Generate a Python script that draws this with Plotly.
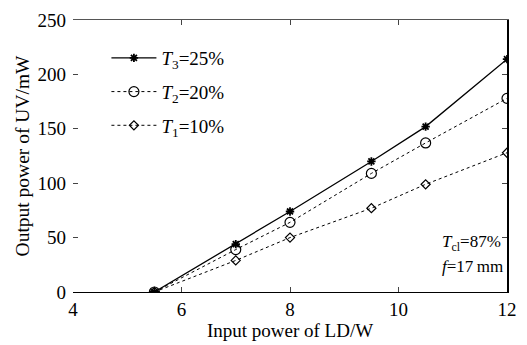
import plotly.graph_objects as go

x_input = [5.5, 7, 8, 9.5, 10.5, 12]
t3_vals = [0, 44, 74, 120, 152, 214]
t2_vals = [0, 39, 64, 109, 137, 178]
t1_vals = [0, 29, 50, 77, 99, 128]

names = ["<i>T</i><sub>3</sub>=25%", "<i>T</i><sub>2</sub>=20%", "<i>T</i><sub>1</sub>=10%"]
x_ticks = [4, 6, 8, 10, 12]
y_ticks = [0, 50, 100, 150, 200, 250]

FONT = "Liberation Serif, Times New Roman, serif"

fig = go.Figure()
fig.add_trace(go.Scatter(x=x_input, y=t3_vals, name=names[0], mode="lines+markers",
                         line=dict(color="black", width=1.3, dash="solid"),
                         marker=dict(symbol="asterisk-open", size=7, color="black", line=dict(width=1.8, color="black")),
                         legendgroup="a"))
fig.add_trace(go.Scatter(x=x_input, y=t2_vals, name=names[1], mode="lines+markers",
                         line=dict(color="black", width=1, dash="dot"),
                         marker=dict(symbol="circle-open", size=10, color="black", line=dict(width=1.2, color="black")),
                         legendgroup="b"))
fig.add_trace(go.Scatter(x=x_input, y=t1_vals, name=names[2], mode="lines+markers",
                         line=dict(color="black", width=1, dash="3px,3px"),
                         marker=dict(symbol="diamond-open", size=7, color="black", line=dict(width=1.2, color="black")),
                         legendgroup="c"))

# invisible trace anchoring the mirrored top/right axes
fig.add_trace(go.Scatter(x=[4, 12], y=[0, 250], xaxis="x2", yaxis="y2", mode="markers",
                         marker=dict(opacity=0), showlegend=False, hoverinfo="skip"))

fig.update_layout(
    width=527, height=345,
    margin=dict(l=73, r=10, t=13, b=46),
    paper_bgcolor="white", plot_bgcolor="white",
    font=dict(family=FONT, size=18, color="black"),
    showlegend=True,
    legend=dict(x=0.077, y=0.93, xanchor="left", yanchor="top", bgcolor="rgba(0,0,0,0)",
                font=dict(family=FONT, size=19), tracegroupgap=6, itemwidth=45),
    xaxis=dict(range=[4, 12], tickvals=x_ticks, ticks="inside", ticklen=5, showgrid=False, zeroline=False,
               showline=True, linecolor="black", linewidth=1.2,
               title=dict(text="Input power of LD/W", font=dict(family=FONT, size=19), standoff=2),
               tickfont=dict(family=FONT, size=19)),
    yaxis=dict(range=[0, 250], tickvals=y_ticks, ticks="inside", ticklen=5, showgrid=False, zeroline=False,
               showline=False, ticklabelstandoff=6,
               title=dict(text="Output power of UV/mW", font=dict(family=FONT, size=19.5), standoff=2),
               tickfont=dict(family=FONT, size=19)),
    xaxis2=dict(range=[4, 12], tickvals=x_ticks, ticks="inside", ticklen=5, overlaying="x", side="top",
                showticklabels=False, showgrid=False, zeroline=False, showline=True, linecolor="#555", linewidth=1),
    yaxis2=dict(range=[0, 250], tickvals=y_ticks, ticks="inside", ticklen=5, overlaying="y", side="right",
                showticklabels=False, showgrid=False, zeroline=False, showline=True, linecolor="black", linewidth=1.5),
    annotations=[
        dict(text="<i>T</i><sub>cl</sub>=87%", x=0.845, y=0.18, xref="paper", yref="paper",
             xanchor="left", yanchor="middle", showarrow=False, font=dict(family=FONT, size=17)),
        dict(text="<i>f</i>=17\u2009mm", x=0.845, y=0.093, xref="paper", yref="paper",
             xanchor="left", yanchor="middle", showarrow=False, font=dict(family=FONT, size=17)),
    ],
)

fig.write_html("out.html")
